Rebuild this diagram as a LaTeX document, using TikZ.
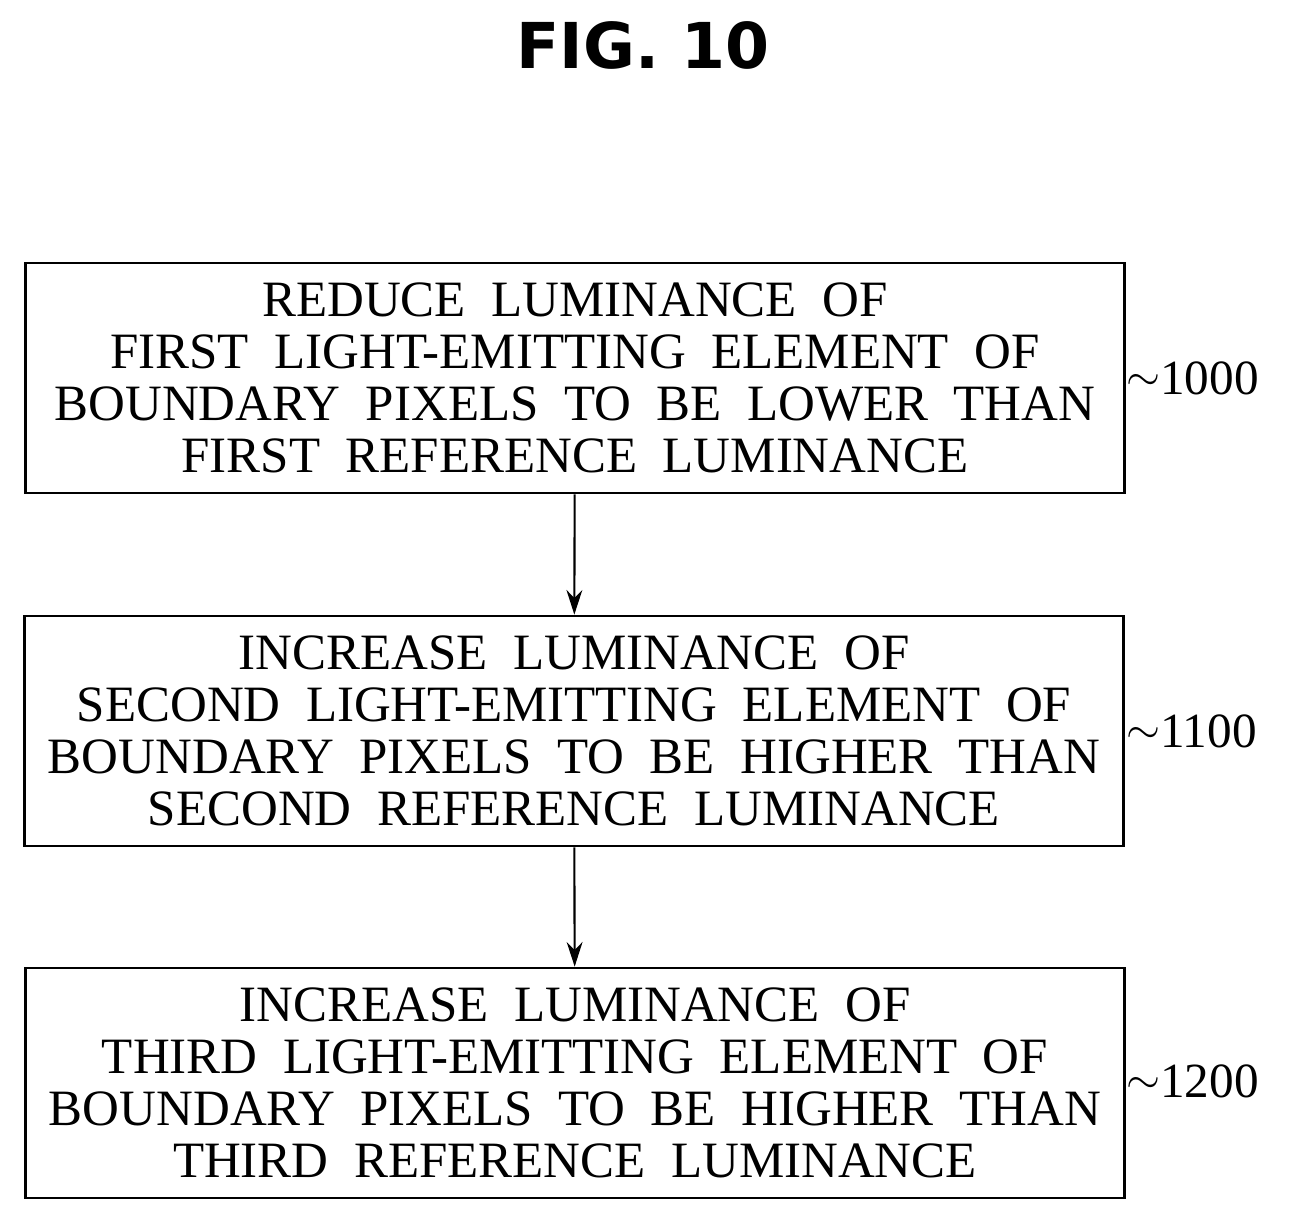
\documentclass[tikz,border=0pt]{standalone}
\usepackage{fontspec}
\setmainfont{Liberation Serif}
\newfontfamily\titlefont{DejaVu Sans}
\usetikzlibrary{arrows.meta,positioning}

\begin{document}
\begin{tikzpicture}[x=0.02cm, y=-0.02cm,
    stepbox/.style={draw, line width=1.6pt, minimum width=22cm, minimum height=4.6cm,
        align=center, font=\fontsize{29}{29.5}\selectfont},
    tag/.style={font=\fontsize{28}{30}\selectfont, anchor=west}
]
    \useasboundingbox (0,0) rectangle (1292,1224);
    % Title
    \node[font=\titlefont\bfseries\fontsize{36}{40}\selectfont] (title) at (643,45) {FIG. 10};

    % Steps
    \node[stepbox] (s1) at (575,378) {REDUCE \ LUMINANCE \ OF\\FIRST \ LIGHT-EMITTING \ ELEMENT \ OF\\BOUNDARY \ PIXELS \ TO \ BE \ LOWER \ THAN\\FIRST \ REFERENCE \ LUMINANCE};
    \node[stepbox] (s2) at (574,731) {INCREASE \ LUMINANCE \ OF\\SECOND \ LIGHT-EMITTING \ ELEMENT \ OF\\BOUNDARY \ PIXELS \ TO \ BE \ HIGHER \ THAN\\SECOND \ REFERENCE \ LUMINANCE};
    \node[stepbox] (s3) at (575,1083) {INCREASE \ LUMINANCE \ OF\\THIRD \ LIGHT-EMITTING \ ELEMENT \ OF\\BOUNDARY \ PIXELS \ TO \ BE \ HIGHER \ THAN\\THIRD \ REFERENCE \ LUMINANCE};

    % Reference numerals
    \node[tag] (n1) at (1120,378) {\raisebox{2pt}{$\sim$}1000};
    \node[tag] (n2) at (1120,731) {\raisebox{2pt}{$\sim$}1100};
    \node[tag] (n3) at (1120,1081) {\raisebox{2pt}{$\sim$}1200};

    % Arrows
    \draw[-{Stealth[length=14pt,width=9pt]}, line width=1.2pt] (s1) -- (s2);
    \draw[-{Stealth[length=14pt,width=9pt]}, line width=1.2pt] (s2) -- (s3);
\end{tikzpicture}
\end{document}
